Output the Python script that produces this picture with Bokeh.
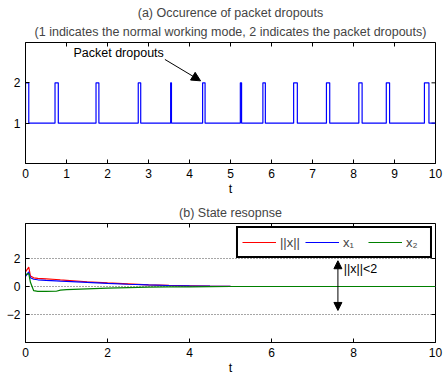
import math
from bokeh.plotting import figure
from bokeh.models import (Range1d, FixedTicker, Title, Arrow, NormalHead,
                          Label, Legend, LegendItem)
from bokeh.layouts import column
from bokeh.embed import file_html
from bokeh.resources import INLINE

FONT = "Liberation Sans"

# ---- data: (a) packet dropout mode ----
drop_start = [0.00, 0.72, 1.72, 2.75, 3.54, 4.32, 5.24, 5.79, 6.54, 7.34, 8.13, 8.80, 9.73]
drop_end   = [0.08, 0.80, 1.79, 2.81, 3.56, 4.38, 5.27, 5.85, 6.63, 7.42, 8.21, 8.88, 9.84]
t_final = 10.0
mode_normal = 1
mode_drop = 2

# ---- data: (b) state response ----
t_state = [0.0, 0.08, 0.12, 0.2, 0.3, 0.5, 0.75, 0.85, 1.0, 1.5, 2.0, 2.5, 3.0, 3.5, 4.0, 4.5, 5.0, 6.0, 8.0, 10.0]
norm_x  = [1.05, 1.38, 0.75, 0.62, 0.58, 0.55, 0.50, 0.47, 0.44, 0.34, 0.26, 0.19, 0.12, 0.08, 0.05, 0.02, 0.01, 0.0, 0.0, 0.0]
x1      = [0.72, 1.05, 0.62, 0.52, 0.48, 0.44, 0.40, 0.38, 0.36, 0.29, 0.22, 0.16, 0.11, 0.07, 0.04, 0.02, 0.01, 0.0, 0.0, 0.0]
x2      = [0.85, 0.92, 0.30, -0.30, -0.35, -0.35, -0.34, -0.26, -0.22, -0.17, -0.12, -0.08, -0.05, -0.03, -0.02, -0.01, 0.0, 0.0, 0.0, 0.0]

mode_ticks = [1, 2]
t_ticks_a = list(range(0, 11))
t_ticks_b = [0, 2, 4, 6, 8, 10]
state_ticks = [-2, 0, 2]


def style_axis(ax, ticks):
    ax.ticker = FixedTicker(ticks=ticks)
    ax.major_tick_in = 4
    ax.major_tick_out = 0
    ax.minor_tick_line_color = None
    ax.axis_line_color = "black"
    ax.axis_line_width = 1
    ax.major_tick_line_color = "black"
    ax.major_label_text_font = FONT
    ax.major_label_text_font_size = "12px"
    ax.major_label_text_color = "black"
    ax.major_label_standoff = 5
    ax.axis_label_text_font = FONT
    ax.axis_label_text_font_size = "12.5px"
    ax.axis_label_text_font_style = "normal"
    ax.axis_label_text_color = "black"
    ax.axis_label_standoff = 1


def make_fig(height, xlo, xhi, ylo, yhi, xticks, yticks, top_border, bottom_border):
    p = figure(width=444, height=height, x_range=Range1d(xlo, xhi), y_range=Range1d(ylo, yhi),
               output_backend="svg", toolbar_location=None, title=None,
               min_border_left=25, min_border_right=9,
               min_border_top=top_border, min_border_bottom=bottom_border,
               x_axis_label="t")
    p.outline_line_color = "black"
    p.background_fill_color = "white"
    p.border_fill_color = "white"
    p.xgrid.visible = False
    p.ygrid.visible = False
    style_axis(p.xaxis[0], xticks)
    style_axis(p.yaxis[0], yticks)
    # MATLAB-style inward ticks on the top and right edges of the box
    p.scatter(xticks, [yhi] * len(xticks), marker="dash", angle=math.pi / 2, size=8,
              line_color="black", line_width=1)
    p.scatter([xhi] * len(yticks), yticks, marker="dash", size=8,
              line_color="black", line_width=1)
    return p


# ---------------- (a) ----------------
p1 = make_fig(198, 0, 10, 0, 3, t_ticks_a, mode_ticks, 42, 34)
p1.add_layout(Title(text="(1 indicates the normal working mode, 2 indicates the packet dropouts)",
                    align="center", text_font=FONT, text_font_size="12.5px",
                    text_font_style="normal", standoff=7), "above")
p1.add_layout(Title(text="(a) Occurence of packet dropouts",
                    align="center", text_font=FONT, text_font_size="12.5px",
                    text_font_style="normal", standoff=0), "above")

xs, ys = [], []
for s, e in zip(drop_start, drop_end):
    xs += [s, s, e, e]
    ys += [mode_normal, mode_drop, mode_drop, mode_normal]
xs.append(t_final)
ys.append(mode_normal)
p1.line(xs, ys, line_color="#0000ff", line_width=1.2)

p1.add_layout(Label(x=1.17, y=2.73, text="Packet dropouts", text_font=FONT,
                    text_font_size="12.5px", text_baseline="middle", text_color="black"))
p1.add_layout(Arrow(end=NormalHead(size=9, fill_color="black", line_color="black"),
                    x_start=3.40, y_start=2.58, x_end=4.27, y_end=2.05,
                    line_color="black", line_width=1))

# ---------------- (b) ----------------
p2 = make_fig(179, 0, 10, -4, 4.5, t_ticks_b, state_ticks, 25, 31)
p2.add_layout(Title(text="(b) State resopnse", align="center", text_font=FONT,
                    text_font_size="12.5px", text_font_style="normal", standoff=8), "above")
p2.ygrid.visible = True
p2.ygrid.ticker = FixedTicker(ticks=state_ticks)
p2.ygrid.grid_line_color = "black"
p2.ygrid.grid_line_alpha = 0.7
p2.ygrid.grid_line_dash = "1 2"

r_n = p2.line(t_state, norm_x, line_color="#ff0000", line_width=1.2)
r_1 = p2.line(t_state, x1, line_color="#0000ff", line_width=1.2)
r_2 = p2.line(t_state, x2, line_color="#008000", line_width=1.2)

leg = Legend(items=[LegendItem(label="||x||", renderers=[r_n]),
                    LegendItem(label="x\u2081", renderers=[r_1]),
                    LegendItem(label="x\u2082", renderers=[r_2])],
             orientation="horizontal", location="top_right",
             border_line_color="black", border_line_width=2, border_line_alpha=1,
             label_text_font=FONT, label_text_font_size="13px",
             glyph_width=34, label_standoff=4, spacing=5, padding=4, margin=3,
             background_fill_color="white", background_fill_alpha=1)
p2.add_layout(leg)

p2.add_layout(Arrow(start=NormalHead(size=8, fill_color="black", line_color="black"),
                    end=NormalHead(size=8, fill_color="black", line_color="black"),
                    x_start=7.62, y_start=-1.71, x_end=7.62, y_end=1.84,
                    line_color="black", line_width=1))
p2.add_layout(Label(x=7.76, y=1.28, text="||x||<2", text_font=FONT, text_font_size="12.5px",
                    text_baseline="middle", text_color="black"))

layout = column(p1, p2, spacing=0)
open("out.html", "w").write(file_html(layout, INLINE))
